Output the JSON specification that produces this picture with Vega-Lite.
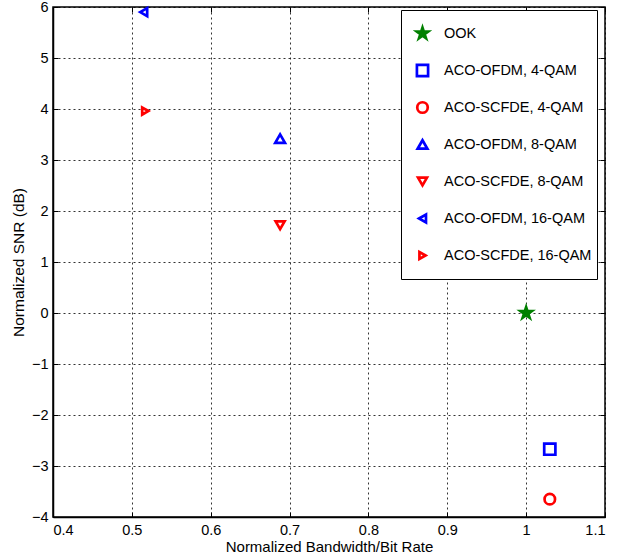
{
  "$schema": "https://vega.github.io/schema/vega-lite/v6.json",
  "autosize": "none",
  "width": 552,
  "height": 510,
  "padding": {"left": 53, "top": 7, "right": 26, "bottom": 41},
  "background": "white",
  "config": {
    "font": "Liberation Sans",
    "view": {"stroke": "black", "strokeWidth": 1.5},
    "axis": {
      "domainColor": "black",
      "domainWidth": 1.5,
      "tickColor": "black",
      "tickSize": -5,
      "tickWidth": 1,
      "labelColor": "black",
      "labelFont": "Liberation Sans",
      "labelFontSize": 14.5,
      "titleFont": "Liberation Sans",
      "titleFontSize": 15.5,
      "titleFontWeight": "normal",
      "titleColor": "black",
      "gridColor": "black",
      "gridDash": [2, 3],
      "gridOpacity": 0.8,
      "gridWidth": 1
    }
  },
  "data": {
    "values": [
      {"series": "OOK", "x": 1.0, "y": 0.0},
      {"series": "ACO-OFDM, 4-QAM", "x": 1.03, "y": -2.67},
      {"series": "ACO-SCFDE, 4-QAM", "x": 1.03, "y": -3.65},
      {"series": "ACO-OFDM, 8-QAM", "x": 0.688, "y": 3.42},
      {"series": "ACO-SCFDE, 8-QAM", "x": 0.688, "y": 1.72},
      {"series": "ACO-OFDM, 16-QAM", "x": 0.515, "y": 5.9},
      {"series": "ACO-SCFDE, 16-QAM", "x": 0.517, "y": 3.96}
    ]
  },
  "layer": [
    {
      "mark": {"type": "point", "filled": false, "strokeWidth": 2.7, "opacity": 1},
      "encoding": {
        "x": {
          "field": "x", "type": "quantitative",
          "scale": {"domain": [0.4, 1.1], "nice": false, "zero": false},
          "axis": {"title": "Normalized Bandwidth/Bit Rate", "titleFontSize": 15, "values": [0.4, 0.5, 0.6, 0.7, 0.8, 0.9, 1.0, 1.1], "format": "~g", "labelPadding": 11, "titlePadding": 3}
        },
        "y": {
          "field": "y", "type": "quantitative",
          "scale": {"domain": [-4, 6], "nice": false, "zero": false},
          "axis": {"title": "Normalized SNR (dB)", "values": [-4, -3, -2, -1, 0, 1, 2, 3, 4, 5, 6], "labelPadding": 10, "titlePadding": 5}
        },
        "color": {
          "field": "series", "type": "nominal",
          "scale": {
            "domain": ["OOK", "ACO-OFDM, 4-QAM", "ACO-SCFDE, 4-QAM", "ACO-OFDM, 8-QAM", "ACO-SCFDE, 8-QAM", "ACO-OFDM, 16-QAM", "ACO-SCFDE, 16-QAM"],
            "range": ["#008000", "#0000ff", "#ff0000", "#0000ff", "#ff0000", "#0000ff", "#ff0000"]
          },
          "legend": {
            "title": null,
            "orient": "none",
            "legendX": 348,
            "legendY": 3,
            "strokeColor": "black",
            "fillColor": "white",
            "padding": 5,
            "symbolOffset": 9,
            "clipHeight": 37,
            "rowPadding": 0,
            "labelFontSize": 14.5,
            "labelFont": "Liberation Sans",
            "labelColor": "black",
            "labelOffset": 14,
            "symbolStrokeWidth": 2.7
          }
        },
        "fill": {
          "field": "series", "type": "nominal",
          "scale": {
            "domain": ["OOK", "ACO-OFDM, 4-QAM", "ACO-SCFDE, 4-QAM", "ACO-OFDM, 8-QAM", "ACO-SCFDE, 8-QAM", "ACO-OFDM, 16-QAM", "ACO-SCFDE, 16-QAM"],
            "range": ["#008000", "transparent", "transparent", "transparent", "transparent", "transparent", "transparent"]
          },
          "legend": {"title": null, "orient": "none", "legendX": 348, "legendY": 3}
        },
        "size": {
          "field": "series", "type": "nominal",
          "scale": {
            "domain": ["OOK", "ACO-OFDM, 4-QAM", "ACO-SCFDE, 4-QAM", "ACO-OFDM, 8-QAM", "ACO-SCFDE, 8-QAM", "ACO-OFDM, 16-QAM", "ACO-SCFDE, 16-QAM"],
            "range": [140, 50, 55, 160, 160, 160, 160]
          },
          "legend": {"title": null, "orient": "none", "legendX": 348, "legendY": 3}
        },
        "shape": {
          "field": "series", "type": "nominal",
          "scale": {
            "domain": ["OOK", "ACO-OFDM, 4-QAM", "ACO-SCFDE, 4-QAM", "ACO-OFDM, 8-QAM", "ACO-SCFDE, 8-QAM", "ACO-OFDM, 16-QAM", "ACO-SCFDE, 16-QAM"],
            "range": ["M0,-1L0.225,-0.309L0.951,-0.309L0.363,0.118L0.588,0.809L0,0.382L-0.588,0.809L-0.363,0.118L-0.951,-0.309L-0.225,-0.309Z", "square", "circle", "triangle-up", "triangle-down", "triangle-left", "triangle-right"]
          },
          "legend": {"title": null, "orient": "none", "legendX": 348, "legendY": 3}
        }
      }
    },
    {
      "mark": {"type": "point", "opacity": 0},
      "encoding": {
        "x": {"field": "x", "type": "quantitative", "axis": {"orient": "top", "labels": false, "grid": false, "domain": false, "title": null, "values": [0.4, 0.5, 0.6, 0.7, 0.8, 0.9, 1.0, 1.1]}},
        "y": {"field": "y", "type": "quantitative", "axis": {"orient": "right", "labels": false, "grid": false, "domain": false, "title": null, "values": [-4, -3, -2, -1, 0, 1, 2, 3, 4, 5, 6]}}
      }
    }
  ],
  "resolve": {"axis": {"x": "independent", "y": "independent"}}
}
